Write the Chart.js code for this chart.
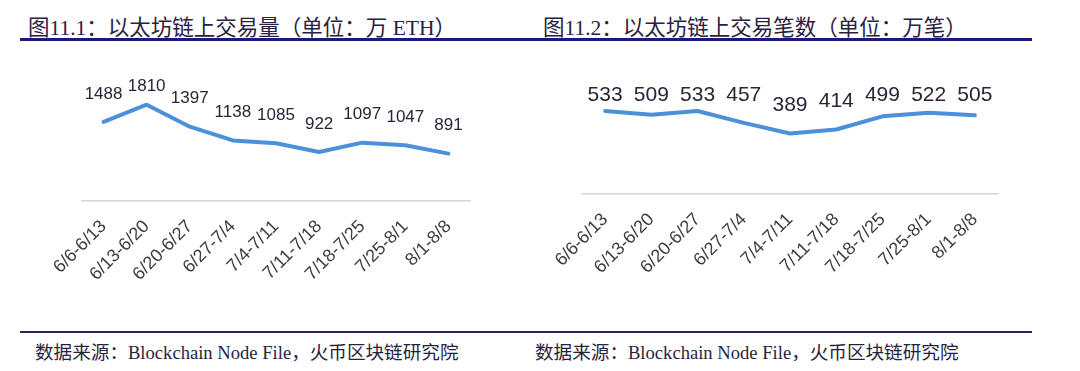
<!DOCTYPE html>
<html>
<head>
<meta charset="utf-8">
<script src="https://cdn.jsdelivr.net/npm/chart.js@4.4.0/dist/chart.umd.min.js"></script>
<style>
  body { margin: 0; background: #fff; width: 1080px; height: 371px; overflow: hidden; position: relative; }
  .title { position: absolute; top: 10px; font-family: "Liberation Serif", "Noto Sans CJK SC", serif; font-size: 21.5px; color: #2a2140; white-space: nowrap; }
  .source { position: absolute; top: 337px; font-family: "Liberation Serif", "Noto Sans CJK SC", serif; font-size: 18.6px; color: #2a1f3d; white-space: nowrap; }
  .rule { position: absolute; left: 20px; width: 1012px; }
  .box { position: absolute; top: 0; width: 540px; height: 330px; }
</style>
</head>
<body>
<div class="title" style="left:28px">图11.1：以太坊链上交易量（单位：万 ETH）</div>
<div class="title" style="left:543px">图11.2：以太坊链上交易笔数（单位：万笔）</div>
<div class="rule" style="top:38px;height:3px;background:#1b1a78"></div>
<div class="box" style="left:0"><canvas id="chart1" width="540" height="330"></canvas></div>
<div class="box" style="left:540px"><canvas id="chart2" width="540" height="330"></canvas></div>
<div class="rule" style="top:331px;height:2px;background:#2a2262"></div>
<div class="source" style="left:35px">数据来源：Blockchain Node File，火币区块链研究院</div>
<div class="source" style="left:535px">数据来源：Blockchain Node File，火币区块链研究院</div>

<script>
var weeks = ['6/6-6/13', '6/13-6/20', '6/20-6/27', '6/27-7/4', '7/4-7/11', '7/11-7/18', '7/18-7/25', '7/25-8/1', '8/1-8/8'];
var volumeEth = [1488, 1810, 1397, 1138, 1085, 922, 1097, 1047, 891];
var txCount = [533, 509, 533, 457, 389, 414, 499, 522, 505];

// draws the value above each point, pushed down when it would leave the top
var valueLabels = {
    id: 'valueLabels',
    afterDatasetsDraw: function (chart, args, opts) {
        var ctx = chart.ctx;
        var meta = chart.getDatasetMeta(0);
        var values = chart.data.datasets[0].data;
        ctx.save();
        ctx.font = opts.size + 'px "Liberation Sans", Arial, sans-serif';
        ctx.fillStyle = '#2b2436';
        ctx.textAlign = 'center';
        ctx.textBaseline = 'middle';
        meta.data.forEach(function (pt, i) {
            var y = Math.max(pt.y - 28, chart.chartArea.top + opts.minTop);
            ctx.fillText(values[i], pt.x, y);
        });
        ctx.restore();
    }
};

function makeChart(id, values, yMax, pad, axisHeight, labelSize, minTop) {
    var ctx = document.getElementById(id).getContext('2d');
    return new Chart(ctx, {
        type: 'line',
        data: {
            labels: weeks,
            datasets: [{
                data: values,
                borderColor: '#4a90da',
                borderWidth: 4,
                borderCapStyle: 'round',
                borderJoinStyle: 'round',
                pointRadius: 0,
                tension: 0,
                fill: false
            }]
        },
        options: {
            responsive: false,
            animation: false,
            layout: { padding: pad },
            plugins: {
                legend: { display: false },
                tooltip: { enabled: false },
                valueLabels: { size: labelSize, minTop: minTop }
            },
            scales: {
                x: {
                    offset: true,
                    grid: { display: false },
                    border: { display: true, color: '#d6d6d6', width: 1.5 },
                    ticks: {
                        autoSkip: false,
                        minRotation: 45,
                        maxRotation: 45,
                        padding: 7,
                        color: '#3c3c3c',
                        font: { family: '"Liberation Sans", Arial, sans-serif', size: 18 }
                    },
                    afterFit: function (scale) { scale.height = axisHeight; }
                },
                y: {
                    display: false,
                    min: 0,
                    max: yMax
                }
            }
        },
        plugins: [valueLabels]
    });
}

makeChart('chart1', volumeEth, 2500, { left: 82, right: 70, top: 68, bottom: 0 }, 129, 17, 18);
makeChart('chart2', txCount, 700, { left: 42, right: 82, top: 85, bottom: 0 }, 136, 21, 10);
</script>
</body>
</html>
